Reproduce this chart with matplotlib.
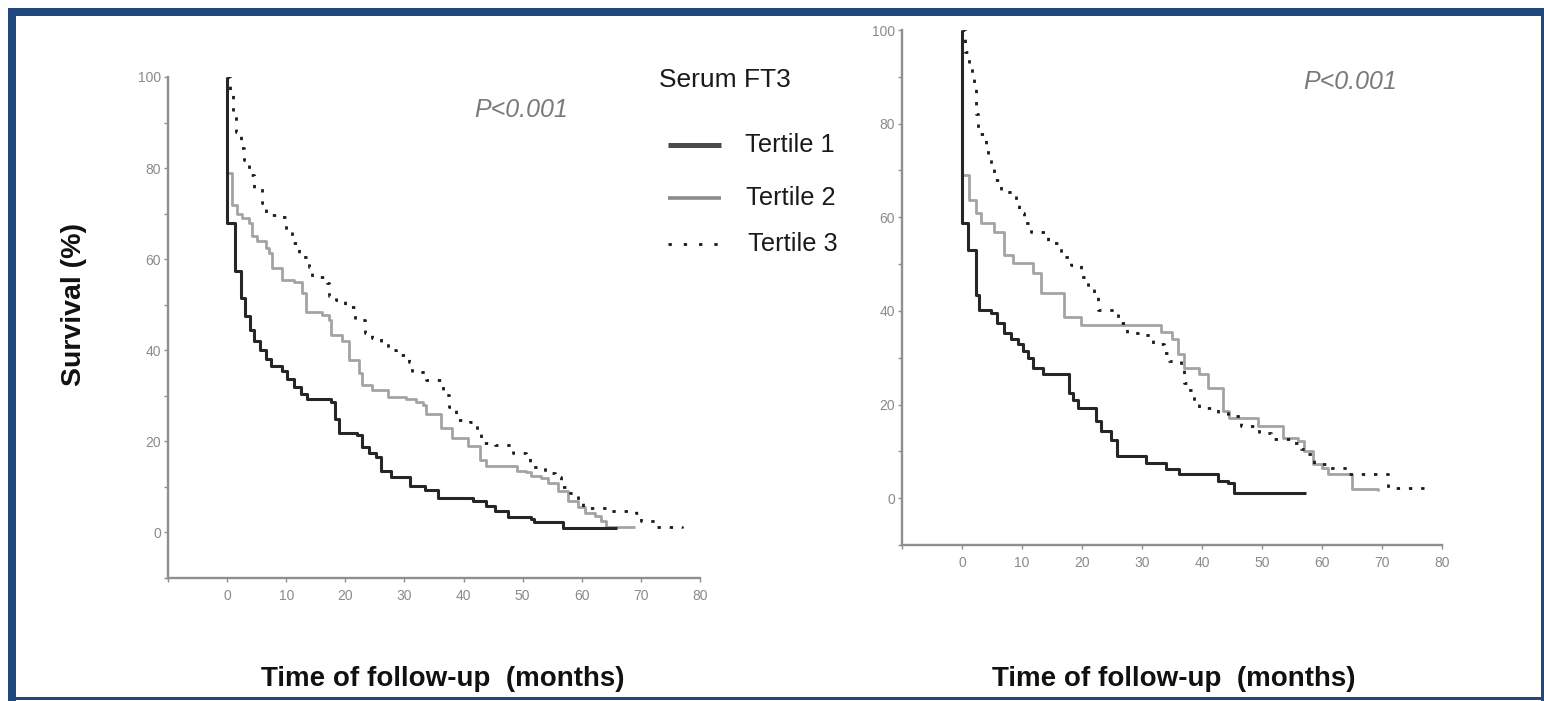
import matplotlib
matplotlib.use("Agg")
import matplotlib.pyplot as plt
from matplotlib.lines import Line2D
from matplotlib.patches import Rectangle
from matplotlib.ticker import FixedLocator

# ---- Kaplan-Meier curves (time in months, survival in %) ----
# Panel A
a_t1_time = [0, 0, 1.3, 2.3, 3.0, 3.8, 4.6, 5.6, 6.6, 7.5, 9.3, 10.2, 11.3, 12.5, 13.5, 17.5, 18.2, 19.0,
             22.0, 22.8, 24.0, 25.2, 26.0, 27.8, 31.0, 33.5, 35.7, 41.6, 43.8, 45.4, 47.6, 51.4, 52.0, 56.8, 66.0]
a_t1_surv = [100, 68, 57.5, 51.5, 47.5, 44.5, 42, 40, 38, 36.5, 35.5, 33.8, 32, 30.5, 29.4, 28.6, 25, 21.8,
             21.3, 18.7, 17.5, 16.5, 13.5, 12.1, 10.3, 9.3, 7.5, 7.0, 5.9, 4.8, 3.3, 3.0, 2.2, 0.9, 0.9]

a_t2_time = [0, 0, 0.8, 1.7, 2.6, 3.7, 4.2, 5.0, 6.5, 7.1, 7.6, 9.3, 11.3, 12.7, 13.3, 16.0, 17.2, 17.5,
             19.4, 20.6, 22.3, 22.8, 24.5, 27.3, 30.2, 31.9, 33.2, 33.7, 36.1, 38.0, 40.8, 42.8, 43.8, 49.0,
             50.6, 51.4, 53.1, 54.3, 56.0, 57.7, 59.4, 60.5, 62.2, 63.2, 64.1, 69.0]
a_t2_surv = [100, 79, 72, 70, 69, 68, 65, 64, 62.4, 61.3, 58, 55.4, 55, 52.5, 48.4, 47.7, 46.6, 43.3,
             42, 37.8, 35, 32.3, 31.2, 29.7, 29.4, 28.6, 27.9, 26, 22.9, 20.7, 19, 15.8, 14.7, 13.6,
             13.2, 12.5, 11.9, 10.8, 9, 7, 5.5, 4.2, 3.7, 2.6, 1.1, 1.1]

a_t3_time = [0, 0.5, 1.0, 1.5, 2.3, 2.8, 3.7, 4.5, 5.9, 6.5, 9.1, 9.9, 11.0, 12.1, 13.8, 14.3, 16.9, 17.2,
             18.5, 20.0, 21.7, 23.4, 24.5, 26.1, 27.3, 28.5, 30.7, 31.2, 33.6, 36.6, 37.5, 38.8, 41.1, 42.2,
             43.0, 45.4, 48.4, 50.6, 51.3, 53.8, 55.5, 56.5, 58.0, 59.4, 60.2, 64.9, 69.1, 70.0, 72.5, 77.0]
a_t3_surv = [100, 96, 92, 88, 84.4, 81.8, 78.5, 75.6, 72.3, 69.7, 69.2, 66.4, 63.5, 60.4, 58.2, 56, 54.7, 52,
             51, 49.5, 46.6, 43.7, 42.8, 41.5, 40, 38.9, 37.4, 35.2, 33.4, 30.1, 27.5, 24.6, 24.2, 21.8,
             19.6, 19.1, 17.4, 16.5, 14.3, 13, 12.1, 9.9, 8.6, 7, 5.3, 4.8, 4.2, 2.6, 1.1, 0.9]

# Panel B
b_t1_time = [0, 0, 1.0, 2.3, 2.8, 4.8, 5.8, 7.0, 8.2, 9.3, 10.2, 11.0, 11.8, 13.5, 17.8, 18.5, 19.3, 22.3,
             23.2, 24.8, 25.9, 30.7, 34.0, 36.2, 42.6, 44.3, 45.4, 57.3]
b_t1_surv = [100, 58.8, 53, 43.3, 40.1, 39.5, 37.5, 35.2, 34, 33, 31.5, 30, 27.9, 26.6, 22.5, 21, 19.3, 16.5,
             14.4, 12.5, 9.0, 7.5, 6.3, 5.1, 3.6, 3.2, 1.1, 1.1]

b_t2_time = [0, 0, 1.2, 2.3, 3.2, 5.3, 7.0, 8.5, 11.8, 13.2, 17.0, 19.8, 33.2, 35.0, 36.0, 37.0, 39.5, 41.0,
             43.5, 44.5, 49.3, 53.5, 56.0, 57.0, 58.5, 60.0, 61.0, 65.0, 69.3]
b_t2_surv = [100, 69, 63.7, 61, 58.8, 56.9, 51.9, 50.2, 48, 43.8, 38.6, 36.9, 35.4, 34.1, 30.9, 27.9, 26.6, 23.6,
             18.7, 17.2, 15.5, 12.9, 12.2, 10.1, 7.3, 6.4, 5.2, 1.9, 1.5]

b_t3_time = [0, 0.5, 1.2, 1.6, 2.0, 2.3, 2.7, 4.0, 4.4, 4.8, 5.3, 6.5, 9.0, 9.5, 10.3, 11.5, 14.3, 16.0,
             16.5, 18.2, 19.8, 21.0, 22.0, 22.7, 26.0, 27.5, 30.3, 31.8, 33.7, 34.5, 36.5, 37.0, 37.6, 38.7,
             39.5, 42.6, 44.3, 46.5, 49.5, 51.5, 54.8, 56.5, 57.3, 58.7, 61.0, 64.3, 71.0, 77.7]
b_t3_surv = [100, 95.3, 92, 89.5, 87.8, 82, 77.7, 75.5, 73, 71.2, 68, 65.5, 63, 61, 58.8, 56.9, 54.5, 53.4,
             51.5, 49.8, 47.2, 45, 42.9, 40.3, 37.5, 35.2, 34.8, 33, 31.1, 29.4, 27.3, 24.7, 23, 20.8,
             19.3, 18.2, 17.6, 15.5, 13.9, 12.7, 11.8, 10.5, 9.4, 7.3, 6.4, 5.2, 2.1, 1.5]

group_labels = ["Tertile 1", "Tertile 2", "Tertile 3"]
legend_title = "Serum FT3"
p_text = "P<0.001"
x_label = "Time of follow-up  (months)"
y_label = "Survival (%)"
x_ticks = [0, 10, 20, 30, 40, 50, 60, 70, 80]
y_ticks = [0, 20, 40, 60, 80, 100]
y_minor = [-10, 10, 30, 50, 70, 90]

# ---- styling ----
SANS = ["Liberation Sans", "DejaVu Sans"]
AXIS_GREY = "#8f8f8f"
FRAME_BLUE = "#1f497d"

curve_styles = [
    dict(color="#262626", lw=2.2, ls="-", zorder=4),
    dict(color="#a3a3a3", lw=2.0, ls="-", zorder=2),
    dict(color="#1a1a1a", lw=2.0, ls=(0, (1.2, 3.2)), zorder=3),
]

W, H = 1544, 701
fig = plt.figure(figsize=(W / 100, H / 100), dpi=100)
fig.patch.set_facecolor("white")


def fx(px):
    return px / W


def fy(py):
    return 1 - py / H


def make_axes(left, top, right, bottom):
    ax = fig.add_axes([fx(left), fy(bottom), fx(right) - fx(left), (bottom - top) / H])
    ax.set_xlim(-10, 80)
    ax.set_ylim(-10, 100)
    for side in ("top", "right"):
        ax.spines[side].set_visible(False)
    for side in ("left", "bottom"):
        ax.spines[side].set_color(AXIS_GREY)
        ax.spines[side].set_linewidth(1.7)
    ax.xaxis.set_major_locator(FixedLocator(x_ticks))
    ax.xaxis.set_minor_locator(FixedLocator([-10]))
    ax.yaxis.set_major_locator(FixedLocator(y_ticks))
    ax.yaxis.set_minor_locator(FixedLocator(y_minor))
    ax.tick_params(which="both", direction="out", length=3, width=1.0, color=AXIS_GREY,
                   labelsize=10, labelcolor="#8a8a8a")
    ax.tick_params(axis="y", pad=2)
    ax.tick_params(axis="x", pad=5)
    for lab in ax.get_xticklabels() + ax.get_yticklabels():
        lab.set_family(SANS)
    return ax


ax_a = make_axes(168, 77, 700, 578)
ax_b = make_axes(902, 30, 1442, 545)

panel_a = [(a_t1_time, a_t1_surv), (a_t2_time, a_t2_surv), (a_t3_time, a_t3_surv)]
panel_b = [(b_t1_time, b_t1_surv), (b_t2_time, b_t2_surv), (b_t3_time, b_t3_surv)]

for ax, curves in ((ax_a, panel_a), (ax_b, panel_b)):
    for (t, s), st, lab in zip(curves, curve_styles, group_labels):
        ax.step(t, s, where="post", label=lab, color=st["color"], lw=st["lw"],
                ls=st["ls"], zorder=st["zorder"], solid_capstyle="butt")

# p-values
fig.text(fx(521), fy(110), p_text, family=SANS, style="italic", fontsize=18,
         color="#7a7a7a", ha="center", va="center")
fig.text(fx(1350), fy(82), p_text, family=SANS, style="italic", fontsize=18,
         color="#7a7a7a", ha="center", va="center")

# axis titles
fig.text(fx(443), fy(679), x_label, family=SANS, weight="bold", fontsize=20,
         color="#111111", ha="center", va="center")
fig.text(fx(1174), fy(679), x_label, family=SANS, weight="bold", fontsize=20,
         color="#111111", ha="center", va="center")
fig.text(fx(74), fy(304), y_label, family=SANS, weight="bold", fontsize=20.5,
         color="#111111", ha="center", va="center", rotation=90)

# legend
fig.text(fx(659), fy(80), legend_title, family=SANS, fontsize=19,
         color="#1a1a1a", ha="left", va="center")
legend_rows = [(145, "#4a4a4a", 3.6, "-", 745),
               (198, "#8c8c8c", 2.6, "-", 746),
               (244, "#1a1a1a", 2.0, (0, (1.2, 4.3)), 748)]
for (ypx, col, lw, ls, tx), lab in zip(legend_rows, group_labels):
    fig.add_artist(Line2D([fx(668), fx(721)], [fy(ypx), fy(ypx)], transform=fig.transFigure,
                          color=col, lw=lw, ls=ls, solid_capstyle="butt"))
    fig.text(fx(tx), fy(ypx), lab, family=SANS, fontsize=18.3, color="#1a1a1a",
             ha="left", va="center")


# blue frame
def frame_rect(x0, y0, x1, y1):
    fig.add_artist(Rectangle((fx(x0), fy(y1)), fx(x1) - fx(x0), (y1 - y0) / H,
                             transform=fig.transFigure, facecolor=FRAME_BLUE,
                             edgecolor="none", zorder=10))


frame_rect(7.5, 7.5, W, 16)
frame_rect(7.5, 7.5, 16, H)
frame_rect(1541, 7.5, 1543.5, H)
frame_rect(7.5, 697, W, 700)

fig.savefig("out.png", dpi=100, facecolor="white")
